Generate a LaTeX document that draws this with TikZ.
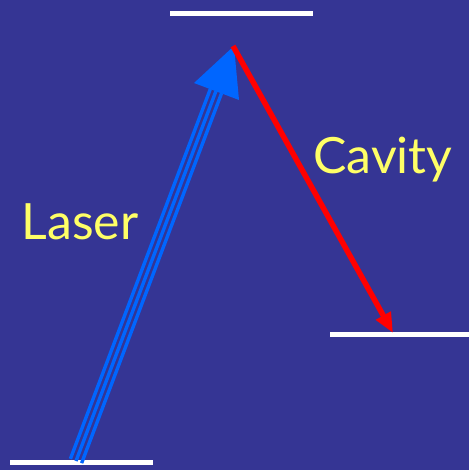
\documentclass[tikz,border=0pt]{standalone}
\usepackage{fontspec}
\setmainfont{Lato}
\usetikzlibrary{calc,arrows.meta}
\definecolor{bg}{RGB}{53,53,148}
\definecolor{laserblue}{RGB}{0,102,255}
\definecolor{txtyellow}{RGB}{255,255,102}
\tikzset{
  level/.style={draw=white,line width=5pt},
  lbl/.style={text=txtyellow,font=\fontsize{50}{55}\selectfont},
  laserline/.style={draw=laserblue,line width=3.4pt},
}
\begin{document}
\begin{tikzpicture}[x=1pt,y=-1pt]
\fill[bg] (0,0) rectangle (469,470);
\useasboundingbox (0,0) rectangle (469,470);
% levels
\coordinate (topL) at (170,14); \coordinate (topR) at (313,14);
\coordinate (botL) at (10,462); \coordinate (botR) at (153,462);
\coordinate (midL) at (330,334); \coordinate (midR) at (469,334);
\draw[level] (topL) -- (topR);
\draw[level] (botL) -- (botR);
\draw[level] (midL) -- (midR);
% laser arrow (triple line)
\coordinate (ls) at (76,461);
\coordinate (le) at (216,91);
\coordinate (tip) at (234,46);
\foreach \o in {-6,0,6}{
  \draw[laserline] ($(ls)+(0.935*\o,0.356*\o)$) -- ($(le)+(0.935*\o,0.356*\o)$);
}
\fill[laserblue] (tip) -- (194,83) -- (239,100) -- cycle;
% cavity arrow
\coordinate (cs) at (233,46);
\coordinate (ce) at (393,333);
\draw[red,line width=5.5pt,-{Triangle[length=20pt,width=16pt]}] (cs) -- (ce);
% labels
\node[lbl] (laser) at (80,222) {Laser};
\node[lbl] (cavity) at (383,160) {Cavity};
\end{tikzpicture}
\end{document}
